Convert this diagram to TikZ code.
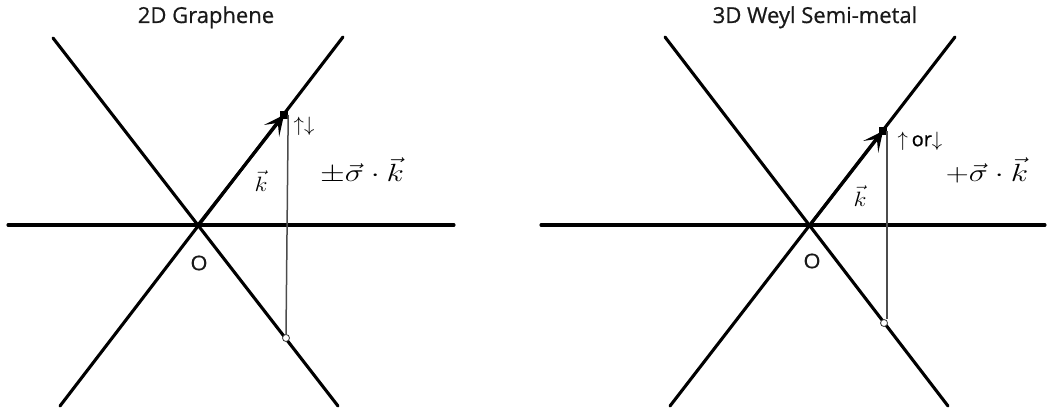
\documentclass[tikz,border=0pt]{standalone}
\usepackage{fontspec}
\setsansfont{Open Sans}
\newfontfamily\titlefont[FakeBold=0.7]{Open Sans}
\usetikzlibrary{arrows.meta}
\begin{document}
\begin{tikzpicture}[x=1pt,y=-1pt,
  axisline/.style={line width=3.1pt, line cap=round},
  guide/.style={line width=1.5pt, black!70},
  vec/.style={line width=3.1pt, -{Stealth[length=20pt,width=19pt,inset=10pt]}},
  tipdot/.style={rectangle, fill=black, minimum size=8pt, inner sep=0pt},
  hole/.style={circle, draw=black!80, fill=white, minimum size=7pt, inner sep=0pt, line width=0.8pt},
  title/.style={font=\titlefont\fontsize{22}{26}\selectfont, anchor=base, text=black!90},
  olabel/.style={font=\titlefont\fontsize{20}{24}\selectfont, xscale=1.1, text=black!90},
  mathbig/.style={font=\fontsize{24}{28}\selectfont, xscale=1.28, anchor=base, inner sep=0pt},
  mathk/.style={font=\fontsize{22}{26}\selectfont, xscale=1.15, inner sep=0pt},
  spinlbl/.style={font=\fontsize{22}{26}\selectfont, inner sep=0pt}
]
\useasboundingbox (0,0) rectangle (1051,414);

% ---------- left: 2D Graphene ----------
\coordinate (OL) at (198,225);
\coordinate (HLa) at (8,225);
\coordinate (HLb) at (454,225);
\coordinate (ULa) at (53,38);
\coordinate (URa) at (343,37);
\coordinate (LLa) at (60,406);
\coordinate (LRa) at (338,406);
\draw[axisline] (HLa) -- (HLb);
\draw[axisline] (ULa) -- (LRa);
\draw[axisline] (LLa) -- (URa);
\node[tipdot] (PL) at (284,115) {};
\node[hole] (QL) at (286,338) {};
\draw[guide] (PL.east) -- (QL.north);
\draw[vec] (OL) -- (PL.center);
\node[title] (TL) at (206,23) {2D Graphene};
\node[olabel] (OLl) at (199,263) {O};
\node[mathk] (KL) at (261,181) {$\vec{k}$};
\node[spinlbl] (SL) at (304,126) {$\uparrow\downarrow$};
\node[mathbig] (FL) at (362,182) {$\pm\vec{\sigma}\cdot\vec{k}$};

% ---------- right: 3D Weyl Semi-metal ----------
\coordinate (OR) at (810,225);
\coordinate (HRa) at (541,225);
\coordinate (HRb) at (1045,225);
\coordinate (URl) at (665,37);
\coordinate (URr) at (955,37);
\coordinate (LRl) at (670,406);
\coordinate (LRr) at (948,406);
\draw[axisline] (HRa) -- (HRb);
\draw[axisline] (URl) -- (LRr);
\draw[axisline] (LRl) -- (URr);
\node[tipdot] (PR) at (883,131) {};
\node[hole] (QR) at (884,323) {};
\draw[guide] (PR.east) -- (PR.east |- QR.north);
\draw[vec] (OR) -- (PR.center);
\node[title] (TR) at (815,23) {3D Weyl Semi-metal};
\node[olabel] (ORl) at (812,261) {O};
\node[mathk] (KR) at (860,196) {$\vec{k}$};
\node[spinlbl] (SR) at (920,141) {$\uparrow$\,{\titlefont\fontsize{20}{24}\selectfont or}$\downarrow$};
\node[mathbig] (FR) at (987,182) {$+\vec{\sigma}\cdot\vec{k}$};
\end{tikzpicture}
\end{document}
